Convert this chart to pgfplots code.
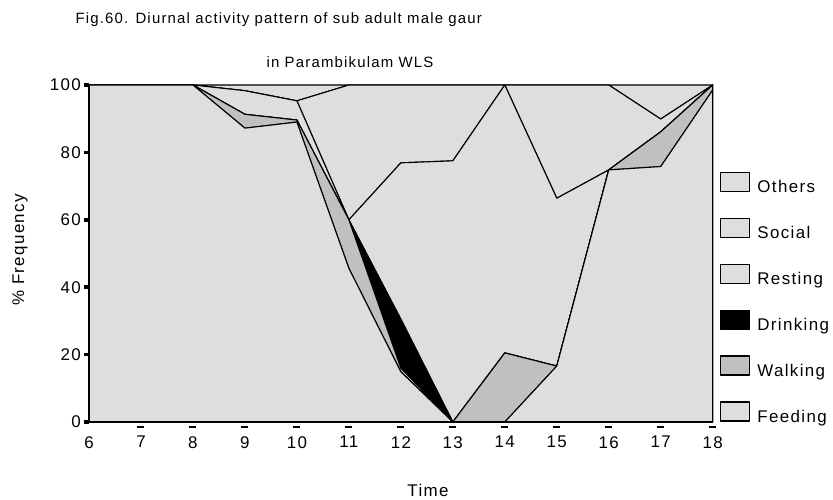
\documentclass[border=0pt]{standalone}
\usepackage{fontspec}
\setmainfont{Liberation Sans}[LetterSpace=8]
\usepackage{pgfplots}
\pgfplotsset{compat=1.18}
\usepackage{pgfplotstable}

\definecolor{areagray}{RGB}{222,222,222}
\definecolor{walkgray}{RGB}{192,192,192}

% share of each activity per hour (stacked, % frequency)
\pgfplotstableread{
x  F     W     D     R     S     O
6  100   0     0     0     0     0
7  100   0     0     0     0     0
8  100   0     0     0     0     0
9  87.2  4.1   0     7.0   0     1.7
10 89.0  0.6   0     5.7   0     4.7
11 45.6  14.4  0     0     40.0  0
12 14.9  1.1   14.5  46.4  23.1  0
13 0     0     0     77.5  22.5  0
14 0     20.5  0     79.5  0     0
15 16.6  0     0     49.8  33.6  0
16 74.8  0     0     0     25.2  0
17 75.8  10.3  0     0     3.8   10.1
18 98.5  1.5   0     0     0     0
}\gaur

\begin{document}
\begin{tikzpicture}
\useasboundingbox (0,0) rectangle (833bp,500bp);
\begin{axis}[
  at={(89bp,78bp)}, anchor=south west,
  width=623.7bp, height=337bp, scale only axis,
  xmin=6, xmax=18, ymin=0, ymax=100,
  clip=false, axis on top,
  axis x line*=bottom, axis y line*=left,
  axis line style={-, line width=2.2bp},
  xtick={6,...,18}, ytick={0,20,...,100},
  xtick style={draw=none},
  ytick align=outside, major tick length=5bp,
  ytick style={line width=3.5bp, black},
  tick label style={font=\fontsize{17}{19}\selectfont},
  /pgf/number format/assume math mode=true,
  yticklabel style={inner sep=0pt, xshift=-3bp},
  xticklabel style={inner sep=0pt, yshift=-14bp},
  stack plots=y,
  every axis plot/.append style={draw=black, line width=1.1bp, line join=round},
  reverse legend,
  legend cell align=left,
  legend image code/.code={\draw[#1, line width=1.2bp] (0bp,-4bp) rectangle (29bp,15bp);},
  legend style={at={(1,0)}, anchor=south west, xshift=7.3bp, yshift=-2bp,
    draw=none, fill=none, inner sep=0pt, row sep=23.4bp, column sep=7bp,
    font=\fontsize{17}{19}\selectfont, nodes={inner sep=0pt}},
]
\addplot[fill=areagray] table[x=x, y=F] {\gaur} \closedcycle;
\addlegendentry{Feeding}
\addplot[fill=walkgray] table[x=x, y=W] {\gaur} \closedcycle;
\addlegendentry{Walking}
\addplot[fill=black] table[x=x, y=D] {\gaur} \closedcycle;
\addlegendentry{Drinking}
\addplot[fill=areagray] table[x=x, y=R] {\gaur} \closedcycle;
\addlegendentry{Resting}
\addplot[fill=areagray] table[x=x, y=S] {\gaur} \closedcycle;
\addlegendentry{Social}
\addplot[fill=areagray] table[x=x, y=O] {\gaur} \closedcycle;
\addlegendentry{Others}
\pgfplotsinvokeforeach{7,8,9,10,11,12,13,14,15,16,17,18}{
  \draw[line width=2bp] ([xshift=-3.5bp, yshift=-4.5bp]axis cs:#1,0) -- ([xshift=3.5bp, yshift=-4.5bp]axis cs:#1,0);
}
\end{axis}
\node[anchor=west, font=\fontsize{15}{17}\selectfont] at (72bp,480bp)
  {Fig.60. Diurnal activity pattern of sub adult male gaur};
\node[font=\fontsize{15}{17}\selectfont] at (350bp,438bp) {in Parambikulam WLS};
\node[font=\fontsize{17}{19}\selectfont] at (428bp,10bp) {Time};
\node[rotate=90, font=\fontsize{17}{19}\selectfont] at (20bp,250bp) {\% Frequency};
\end{tikzpicture}
\end{document}
